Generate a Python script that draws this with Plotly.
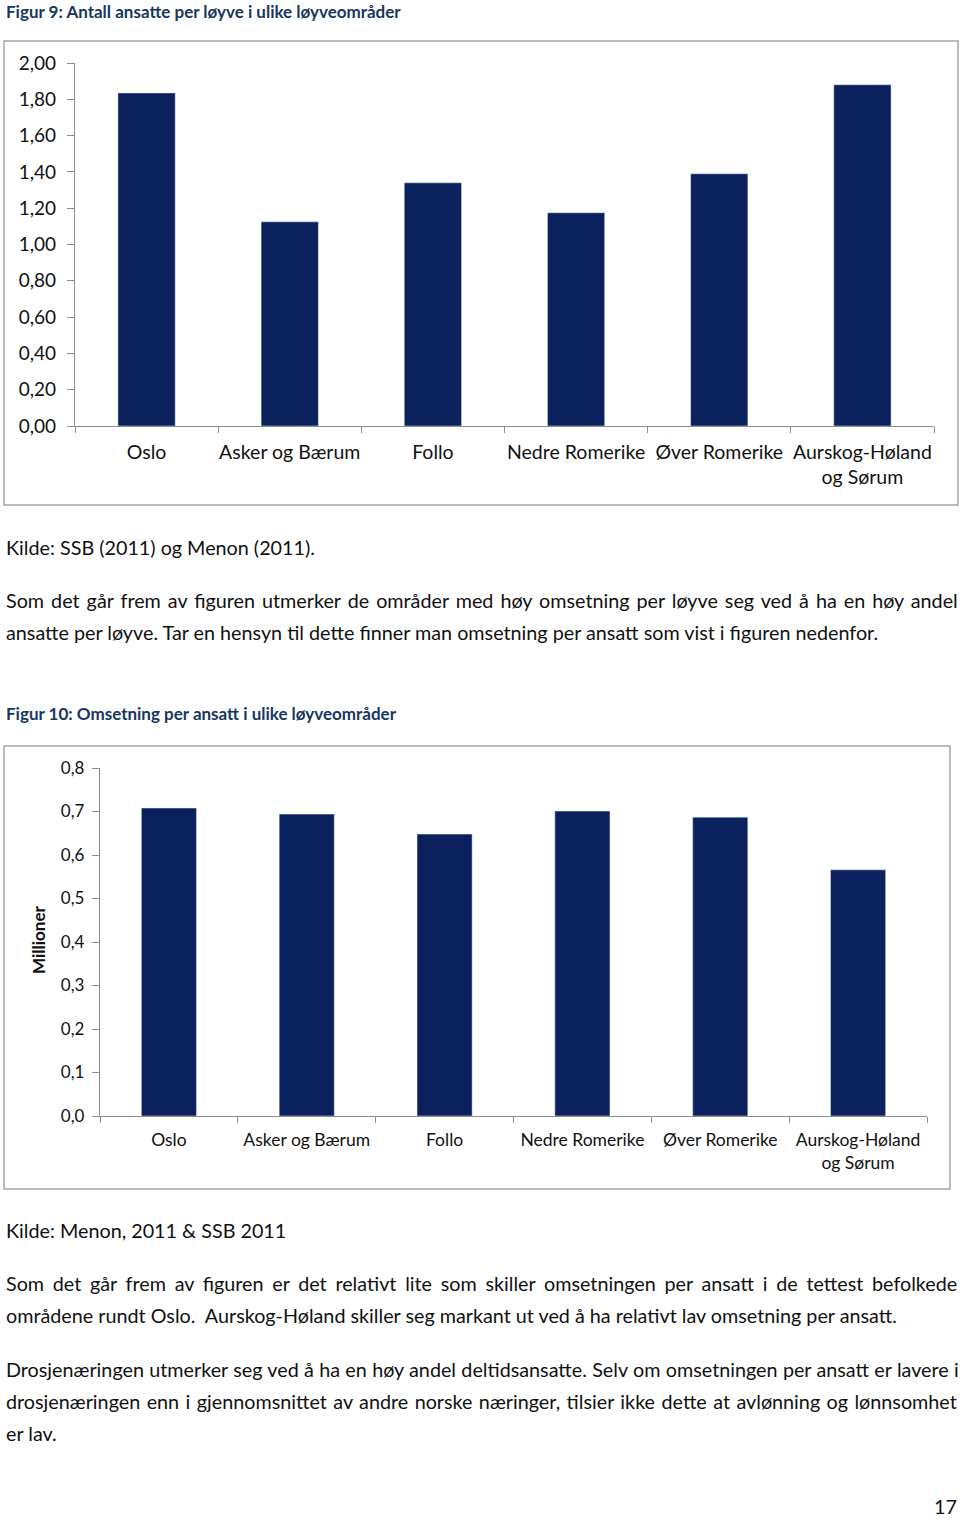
import plotly.graph_objects as go

W, H = 960, 1519

# ---- data ----
regions = ["Oslo", "Asker og Bærum", "Follo", "Nedre Romerike", "Øver Romerike", "Aurskog-Høland<br>og Sørum"]
ansatte_per_loyve = [1.835, 1.125, 1.34, 1.175, 1.39, 1.88]
omsetning_per_ansatt = [0.708, 0.694, 0.648, 0.701, 0.687, 0.566]
y1_ticks = [0, 0.2, 0.4, 0.6, 0.8, 1.0, 1.2, 1.4, 1.6, 1.8, 2.0]
y2_ticks = [0, 0.1, 0.2, 0.3, 0.4, 0.5, 0.6, 0.7, 0.8]

BAR = "#0A215E"
AX = "#8c8c8c"
TXT = "#111111"
BLUE = "#17375E"
FONT = "Lato"
BODY = 19.75

def py(p):
    return 1 - p / H

def px(p):
    return p / W

fig = go.Figure()
fig.add_trace(go.Bar(x=regions, y=ansatte_per_loyve, marker_color=BAR, width=0.4,
                     xaxis="x", yaxis="y", showlegend=False))
fig.add_trace(go.Bar(x=regions, y=omsetning_per_ansatt, marker_color=BAR, width=0.4,
                     xaxis="x2", yaxis="y2", showlegend=False))

common_x = dict(type="category", showline=True, linecolor=AX, linewidth=1.3,
                ticks="outside", tickson="boundaries", ticklen=6, tickcolor=AX, tickangle=0,
                showgrid=False, zeroline=False, fixedrange=True, ticklabelstandoff=8,
                automargin=False)
common_y = dict(showline=True, linecolor=AX, linewidth=1.3, ticks="outside", ticklen=7,
                tickcolor=AX, showgrid=False, zeroline=False, automargin=False)

fig.update_layout(
    width=W, height=H, margin=dict(l=0, r=0, t=0, b=0, pad=0, autoexpand=False),
    paper_bgcolor="white", plot_bgcolor="white",
    separators=",.", bargap=0.6,
    font=dict(family=FONT, color=TXT),
    xaxis=dict(domain=[px(75), px(934)], anchor="y", tickfont=dict(size=19.5, color=TXT), **common_x),
    yaxis=dict(domain=[py(426), py(63)], anchor="x", range=[0, 2.0], tickvals=y1_ticks,
               tickformat=".2f", tickfont=dict(size=19, color=TXT), ticklabelstandoff=7, **common_y),
    xaxis2=dict(domain=[px(100), px(927)], anchor="y2", tickfont=dict(size=17.5, color=TXT), **common_x),
    yaxis2=dict(domain=[py(1116), py(768)], anchor="x2", range=[0, 0.8], tickvals=y2_ticks,
                tickformat=".1f", tickfont=dict(size=17, color=TXT), ticklabelstandoff=4, **common_y),
)

shapes = []
for (x0, y0, x1, y1) in [(4, 41, 958, 505), (4, 746, 950, 1189)]:
    shapes.append(dict(type="rect", xref="paper", yref="paper", x0=px(x0), x1=px(x1),
                       y0=py(y1), y1=py(y0), line=dict(color="#a6a6a6", width=1.5)))
fig.update_layout(shapes=shapes)

ann = []
def text(t, y, size=BODY, bold=False, color=TXT, x=5, anchor="left", ws=None, yanchor="middle"):
    if bold:
        t = "<b>%s</b>" % t
    if ws is not None:
        t = '<span style="word-spacing:%.2fpx">%s</span>' % (ws, t)
    ann.append(dict(text=t, x=px(x), y=py(y), xref="paper", yref="paper",
                    xanchor=anchor, yanchor=yanchor, showarrow=False, borderpad=0,
                    font=dict(size=size, color=color, family=FONT)))

text("Figur 9: Antall ansatte per løyve i ulike løyveområder", 0, size=17, bold=True, color=BLUE, yanchor="top")
text("Kilde: SSB (2011) og Menon (2011).", 547)
text("Som det går frem av figuren utmerker de områder med høy omsetning per løyve seg ved å ha en høy andel", 600, ws=1.95)
text("ansatte per løyve. Tar en hensyn til dette finner man omsetning per ansatt som vist i figuren nedenfor.", 632)
text("Figur 10: Omsetning per ansatt i ulike løyveområder", 713, size=17, bold=True, color=BLUE)
text("Kilde: Menon, 2011 &amp; SSB 2011", 1230)
text("Som det går frem av figuren er det relativt lite som skiller omsetningen per ansatt i de tettest befolkede", 1283, ws=3.66)
text("områdene rundt Oslo.  Aurskog-Høland skiller seg markant ut ved å ha relativt lav omsetning per ansatt.", 1315)
text("Drosjenæringen utmerker seg ved å ha en høy andel deltidsansatte. Selv om omsetningen per ansatt er lavere i", 1369, ws=0.27)
text("drosjenæringen enn i gjennomsnittet av andre norske næringer, tilsier ikke dette at avlønning og lønnsomhet", 1401, ws=1.39)
text("er lav.", 1433)
text("17", 1519, x=958, anchor="right", yanchor="bottom")
ann.append(dict(text="<b>Millioner</b>", x=px(38), y=py(940), xref="paper", yref="paper",
                textangle=-90, showarrow=False, xanchor="center", yanchor="middle",
                font=dict(size=17, color=TXT, family=FONT)))
fig.update_layout(annotations=ann)

post = ("var d=document.getElementById('{plot_id}');"
        "d.style.position='fixed';d.style.top='0px';d.style.left='0px';"
        "document.body.style.margin='0';document.body.style.padding='0';"
        "document.body.style.overflow='hidden';document.documentElement.style.overflow='hidden';")
fig.write_html("out.html", config={"displayModeBar": False}, post_script=post)
